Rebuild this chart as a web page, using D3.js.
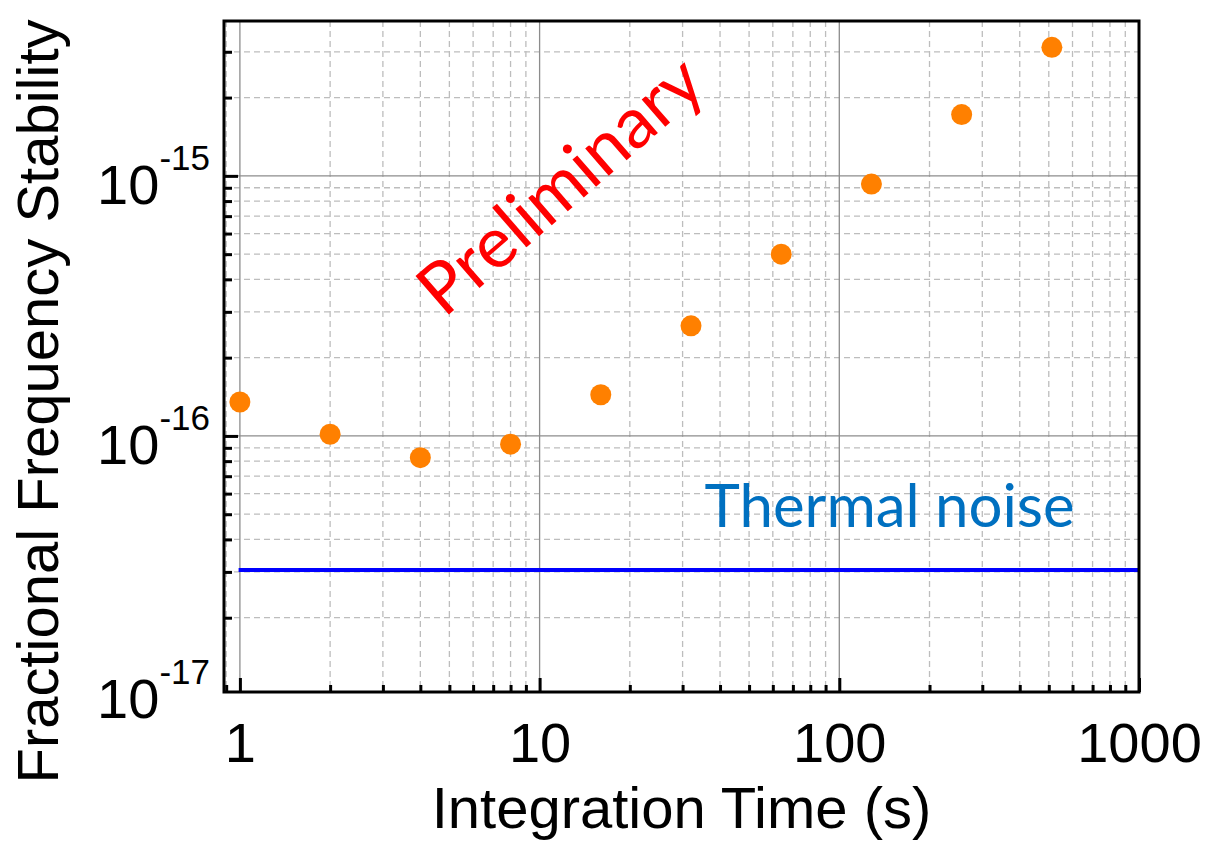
<!DOCTYPE html>
<html>
<head>
<meta charset="utf-8">
<script src="https://cdn.jsdelivr.net/npm/d3@7"></script>
<style>
  body { margin: 0; background: #fff; }
  .tick text { font-family: "Liberation Sans", Arial, sans-serif; }
</style>
</head>
<body>
<div class="chart"></div>
<script>
// data
var tau = [1, 2, 4, 8, 16, 32, 64, 128, 256, 512];
var adev = [1.35e-16, 1.015e-16, 8.25e-17, 9.3e-17, 1.44e-16, 2.65e-16, 5.0e-16, 9.3e-16, 1.72e-15, 3.12e-15];
var thermalNoise = 3.05e-17;

var xMajor = [1, 10, 100, 1000];
var xTickLabels = ["1", "10", "100", "1000"];
var yMajor = [1e-17, 1e-16, 1e-15];
var yTickExponents = ["-17", "-16", "-15"];

var svgWidth = 1208;
var svgHeight = 841;

var margin = { top: 21, right: 69, bottom: 149, left: 224 };
var width = svgWidth - margin.left - margin.right;
var height = svgHeight - margin.top - margin.bottom;

var svg = d3.select(".chart")
  .append("svg")
  .attr("width", svgWidth)
  .attr("height", svgHeight);

var chartGroup = svg.append("g").attr("transform", `translate(${margin.left}, ${margin.top})`);

// scales
var xLogScale = d3.scaleLog().domain([0.885, 1000]).range([0, width]);
var yLogScale = d3.scaleLog().domain([1.036e-17, 3.94e-15]).range([height, 0]);

// minor tick values (2..9 of each decade) inside the domain
var xMinor = [];
[0.1, 1, 10, 100].forEach(function(d) {
  for (var k = 2; k <= 9; k++) {
    var v = d * k;
    if (v > 0.885 && v < 1000) xMinor.push(v);
  }
});
var yMinor = [];
[1e-17, 1e-16, 1e-15].forEach(function(d) {
  for (var k = 2; k <= 9; k++) {
    var v = d * k;
    if (v > 1.036e-17 && v < 3.94e-15) yMinor.push(v);
  }
});

// grid lines
var grid = chartGroup.append("g");
grid.selectAll(".xminor").data(xMinor).enter().append("line")
  .attr("x1", d => xLogScale(d)).attr("x2", d => xLogScale(d))
  .attr("y1", 0).attr("y2", height)
  .attr("stroke", "#bdbdbd").attr("stroke-width", 1.3).attr("stroke-dasharray", "6,4");
grid.selectAll(".yminor").data(yMinor).enter().append("line")
  .attr("y1", d => yLogScale(d)).attr("y2", d => yLogScale(d))
  .attr("x1", 0).attr("x2", width)
  .attr("stroke", "#bdbdbd").attr("stroke-width", 1.3).attr("stroke-dasharray", "6,4");
grid.selectAll(".xmajor").data(xMajor).enter().append("line")
  .attr("x1", d => xLogScale(d)).attr("x2", d => xLogScale(d))
  .attr("y1", 0).attr("y2", height)
  .attr("stroke", "#8c8c8c").attr("stroke-width", 1.3);
grid.selectAll(".ymajor").data(yMajor.filter(d => d > 1.036e-17)).enter().append("line")
  .attr("y1", d => yLogScale(d)).attr("y2", d => yLogScale(d))
  .attr("x1", 0).attr("x2", width)
  .attr("stroke", "#8c8c8c").attr("stroke-width", 1.3);

// thermal noise line
chartGroup.append("line")
  .attr("x1", xLogScale(0.99)).attr("x2", width)
  .attr("y1", yLogScale(thermalNoise)).attr("y2", yLogScale(thermalNoise))
  .attr("stroke", "#0000ff").attr("stroke-width", 4);

// points
chartGroup.selectAll("circle")
  .data(tau)
  .enter()
  .append("circle")
  .attr("cx", d => xLogScale(d))
  .attr("cy", (d, i) => yLogScale(adev[i]))
  .attr("r", 10.5)
  .attr("fill", "#ff8000");

// axes, ticks pointing inward
var xaxisMinor = d3.axisBottom(xLogScale).tickValues(xMinor).tickSize(-7).tickFormat("");
var xaxis = d3.axisBottom(xLogScale).tickValues(xMajor).tickSize(-14).tickPadding(30)
  .tickFormat((d, i) => xTickLabels[i]);
var yaxisMinor = d3.axisLeft(yLogScale).tickValues(yMinor).tickSize(-8).tickFormat("");
var yaxis = d3.axisLeft(yLogScale).tickValues(yMajor).tickSize(-14).tickFormat("");

chartGroup.append("g").attr("transform", `translate(0, ${height})`).call(xaxisMinor);
var gx = chartGroup.append("g").attr("transform", `translate(0, ${height})`).call(xaxis);
chartGroup.append("g").call(yaxisMinor);
var gy = chartGroup.append("g").call(yaxis);

chartGroup.selectAll(".domain").remove();
chartGroup.selectAll(".tick line").attr("stroke", "#000").attr("stroke-width", 3);
// the 10^-17 tick falls just under the frame, so no tick mark there
gy.selectAll(".tick").filter(d => d < 1.036e-17).select("line").remove();

gx.selectAll(".tick text")
  .attr("font-size", 56)
  .attr("fill", "#000")
  .attr("dy", "0.71em");

// y labels as 10^n
gy.selectAll(".tick").each(function(d, i) {
  var t = d3.select(this).append("text")
    .attr("x", -14)
    .attr("y", Math.min(28, height + 25 - yLogScale(d)))
    .attr("text-anchor", "end")
    .attr("fill", "#000")
    .attr("font-size", 56);
  t.append("tspan").text("10");
  t.append("tspan").attr("dy", -34).attr("font-size", 35).text(yTickExponents[i]);
});

// frame
chartGroup.append("rect")
  .attr("x", 0).attr("y", 0)
  .attr("width", width).attr("height", height)
  .attr("fill", "none")
  .attr("stroke", "#000")
  .attr("stroke-width", 3);

// annotations
chartGroup.append("text")
  .attr("x", xLogScale(35.5))
  .attr("y", yLogScale(thermalNoise) - 43)
  .attr("font-family", "Lato, 'Open Sans', sans-serif")
  .attr("font-size", 60)
  .attr("fill", "#0070c0")
  .text("Thermal noise");

chartGroup.append("text")
  .attr("transform", `translate(${xLogScale(4.8)}, ${yLogScale(2.82e-16)}) rotate(-41)`)
  .attr("font-family", "Lato, 'Open Sans', sans-serif")
  .attr("font-size", 71)
  .attr("fill", "#ff0000")
  .text("Preliminary");

// axis labels
svg.append("text")
  .attr("transform", "rotate(-90)")
  .attr("y", 58)
  .attr("x", 0 - (margin.top + height / 2 + 45))
  .attr("text-anchor", "middle")
  .attr("font-family", "'Liberation Sans', Arial, sans-serif")
  .attr("font-size", 58)
  .attr("fill", "#000")
  .text("Fractional Frequency Stability");

svg.append("text")
  .attr("x", margin.left + width / 2)
  .attr("y", 828)
  .attr("text-anchor", "middle")
  .attr("font-family", "'Liberation Sans', Arial, sans-serif")
  .attr("font-size", 58)
  .attr("fill", "#000")
  .text("Integration Time (s)");
</script>
</body>
</html>
